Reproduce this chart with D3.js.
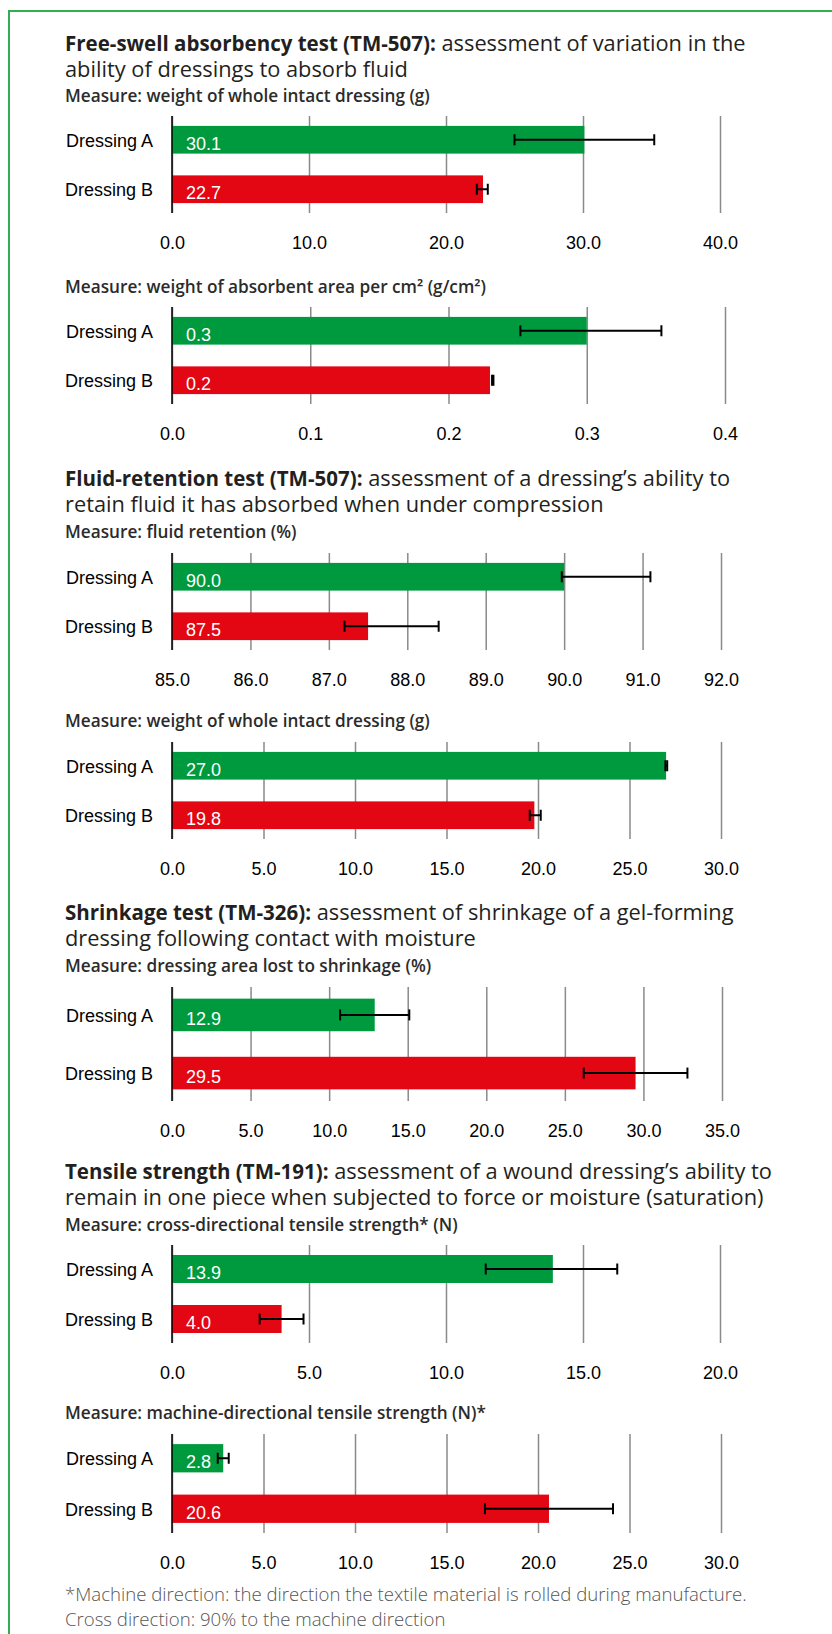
<!DOCTYPE html>
<html><head><meta charset="utf-8">
<script src="https://cdn.jsdelivr.net/npm/d3@7"></script>
<style>body{margin:0;background:#fff}</style>
</head><body>
<svg id="c" width="832" height="1634"></svg>
<script>
// ---------- DATA ----------
const categories = ["Dressing A", "Dressing B"];

// Free-swell absorbency: weight of whole intact dressing (g)
const swellWholeValues = [30.1, 22.7];
const swellWholeLow    = [25.0, 22.25];
const swellWholeHigh   = [35.2, 23.05];
const swellWholeTicks  = [0, 10, 20, 30, 40];

// Free-swell absorbency: weight of absorbent area per cm2 (g/cm2)
const swellAreaValues = [0.30, 0.23];
const swellAreaLow    = [0.252, 0.2315];
const swellAreaHigh   = [0.354, 0.2325];
const swellAreaTicks  = [0, 0.1, 0.2, 0.3, 0.4];

// Fluid retention (%)
const retentionValues = [90.0, 87.5];
const retentionLow    = [89.97, 87.2];
const retentionHigh   = [91.1, 88.4];
const retentionTicks  = [85, 86, 87, 88, 89, 90, 91, 92];

// Fluid retention: weight of whole intact dressing (g)
const retainedWeightValues = [27.0, 19.8];
const retainedWeightLow    = [26.96, 19.55];
const retainedWeightHigh   = [27.06, 20.15];
const retainedWeightTicks  = [0, 5, 10, 15, 20, 25, 30];

// Shrinkage: dressing area lost (%)
const shrinkValues = [12.9, 29.5];
const shrinkLow    = [10.7, 26.2];
const shrinkHigh   = [15.1, 32.8];
const shrinkTicks  = [0, 5, 10, 15, 20, 25, 30, 35];

// Tensile strength: cross-directional (N)
const crossValues = [13.9, 4.0];
const crossLow    = [11.45, 3.2];
const crossHigh   = [16.25, 4.8];
const crossTicks  = [0, 5, 10, 15, 20];

// Tensile strength: machine-directional (N)
const machineValues = [2.8, 20.6];
const machineLow    = [2.5, 17.1];
const machineHigh   = [3.1, 24.1];
const machineTicks  = [0, 5, 10, 15, 20, 25, 30];

// ---------- TEXT ----------
const panels = [
  {title: ["Free-swell absorbency test (TM-507):", " assessment of variation in the", "ability of dressings to absorb fluid"],
   measure: "Measure: weight of whole intact dressing (g)",
   values: swellWholeValues, low: swellWholeLow, high: swellWholeHigh, ticks: swellWholeTicks,
   titleY: 51, measureY: 102, top: 116, h: 97, right: 720},
  {measure: "Measure: weight of absorbent area per cm² (g/cm²)",
   values: swellAreaValues, low: swellAreaLow, high: swellAreaHigh, ticks: swellAreaTicks,
   measureY: 293, top: 307, h: 97, right: 725},
  {title: ["Fluid-retention test (TM-507):", " assessment of a dressing’s ability to", "retain fluid it has absorbed when under compression"],
   measure: "Measure: fluid retention (%)",
   values: retentionValues, low: retentionLow, high: retentionHigh, ticks: retentionTicks,
   titleY: 486, measureY: 538, top: 553, h: 97, right: 721},
  {measure: "Measure: weight of whole intact dressing (g)",
   values: retainedWeightValues, low: retainedWeightLow, high: retainedWeightHigh, ticks: retainedWeightTicks,
   measureY: 727, top: 742, h: 97, right: 721},
  {title: ["Shrinkage test (TM-326):", " assessment of shrinkage of a gel-forming", "dressing following contact with moisture"],
   measure: "Measure: dressing area lost to shrinkage (%)",
   values: shrinkValues, low: shrinkLow, high: shrinkHigh, ticks: shrinkTicks,
   titleY: 920, measureY: 972, top: 987, h: 114, right: 722},
  {title: ["Tensile strength (TM-191):", " assessment of a wound dressing’s ability to", "remain in one piece when subjected to force or moisture (saturation)"],
   measure: "Measure: cross-directional tensile strength* (N)",
   values: crossValues, low: crossLow, high: crossHigh, ticks: crossTicks,
   titleY: 1179, measureY: 1231, top: 1245, h: 98, right: 720},
  {measure: "Measure: machine-directional tensile strength (N)*",
   values: machineValues, low: machineLow, high: machineHigh, ticks: machineTicks,
   measureY: 1419, top: 1434, h: 99, right: 721}
];
const footnote = ["*Machine direction: the direction the textile material is rolled during manufacture.",
                  "Cross direction: 90% to the machine direction"];

// ---------- STYLE ----------
const GREEN = "#009a3e", RED = "#e30613", FRAME = "#34ad4f";
const HEAD_FONT = "'Open Sans', sans-serif";
const CHART_FONT = "'Liberation Sans', Arial, sans-serif";
const LEFT = 172, TEXT_X = 65;

const svg = d3.select("#c");
svg.append("rect").attr("width", 832).attr("height", 1634).attr("fill", "#fff");
svg.append("path").attr("d", "M9,1640 V11 H840").attr("fill", "none")
   .attr("stroke", FRAME).attr("stroke-width", 2);

const fmt = d3.format(".1f");
const colors = d3.scaleOrdinal().domain(categories).range([GREEN, RED]);

panels.forEach(p => {
  const g = svg.append("g");
  if (p.title) {
    const t = g.append("text").attr("x", TEXT_X).attr("y", p.titleY)
      .attr("font-family", HEAD_FONT).attr("fill", "#231f20");
    t.append("tspan").attr("font-weight", 700).attr("font-size", 20.5).text(p.title[0]);
    t.append("tspan").attr("font-weight", 400).attr("font-size", 21.8).text(p.title[1]);
    t.append("tspan").attr("x", TEXT_X).attr("y", p.titleY + 26)
      .attr("font-weight", 400).attr("font-size", 21.8).text(p.title[2]);
  }
  g.append("text").attr("x", TEXT_X).attr("y", p.measureY)
    .attr("font-family", HEAD_FONT).attr("font-size", 17.2).attr("font-weight", 600)
    .attr("fill", "#2b2b2b").text(p.measure);

  const x = d3.scaleLinear().domain([p.ticks[0], p.ticks[p.ticks.length - 1]]).range([LEFT, p.right]);
  const y = d3.scaleBand().domain(categories).range([p.top, p.top + p.h]).paddingInner(0.44).paddingOuter(0.2);

  const ax = g.append("g").attr("transform", `translate(0,${p.top})`)
    .call(d3.axisBottom(x).tickValues(p.ticks).tickFormat(fmt).tickSize(p.h).tickPadding(23));
  ax.select(".domain").remove();
  ax.selectAll(".tick line").attr("stroke", "#8a8a8a").attr("stroke-width", 1.5);
  ax.selectAll(".tick text").attr("font-family", CHART_FONT).attr("font-size", 18).attr("fill", "#000");

  const x0 = p.ticks[0];
  g.selectAll(".bar").data(categories).join("rect")
    .attr("x", x(x0)).attr("y", c => y(c))
    .attr("width", (c, i) => x(p.values[i]) - x(x0)).attr("height", y.bandwidth())
    .attr("fill", c => colors(c));

  // vertical axis line on top of bars
  g.append("line").attr("x1", x(x0)).attr("x2", x(x0)).attr("y1", p.top).attr("y2", p.top + p.h)
    .attr("stroke", "#000").attr("stroke-width", 1.5);

  // error bars
  const eb = g.selectAll(".err").data(categories).join("g")
    .attr("transform", c => `translate(0,${y(c) + y.bandwidth() / 2})`);
  eb.append("line").attr("x1", (c, i) => x(p.low[i])).attr("x2", (c, i) => x(p.high[i]))
    .attr("stroke", "#000").attr("stroke-width", 2);
  eb.append("line").attr("x1", (c, i) => x(p.low[i])).attr("x2", (c, i) => x(p.low[i]))
    .attr("y1", -5.5).attr("y2", 5.5).attr("stroke", "#000").attr("stroke-width", 2);
  eb.append("line").attr("x1", (c, i) => x(p.high[i])).attr("x2", (c, i) => x(p.high[i]))
    .attr("y1", -5.5).attr("y2", 5.5).attr("stroke", "#000").attr("stroke-width", 2);

  // category labels
  g.selectAll(".cat").data(categories).join("text")
    .attr("x", LEFT - 19).attr("y", c => y(c) + y.bandwidth() / 2 + 7)
    .attr("text-anchor", "end").attr("font-family", CHART_FONT).attr("font-size", 18)
    .attr("fill", "#000").text(c => c);

  // value labels
  g.selectAll(".val").data(categories).join("text")
    .attr("x", x(x0) + 14).attr("y", c => y(c) + y.bandwidth() / 2 + 10)
    .attr("font-family", CHART_FONT).attr("font-size", 18).attr("fill", "#fff")
    .text((c, i) => fmt(p.values[i]));
});

const fn = svg.append("text").attr("x", TEXT_X).attr("y", 1600.5)
  .attr("font-family", HEAD_FONT).attr("font-size", 18.6).attr("font-weight", 300).attr("fill", "#555");
footnote.forEach((line, i) => {
  fn.append("tspan").attr("x", TEXT_X).attr("y", 1600.5 + i * 25.5).text(line);
});
</script>
</body></html>
